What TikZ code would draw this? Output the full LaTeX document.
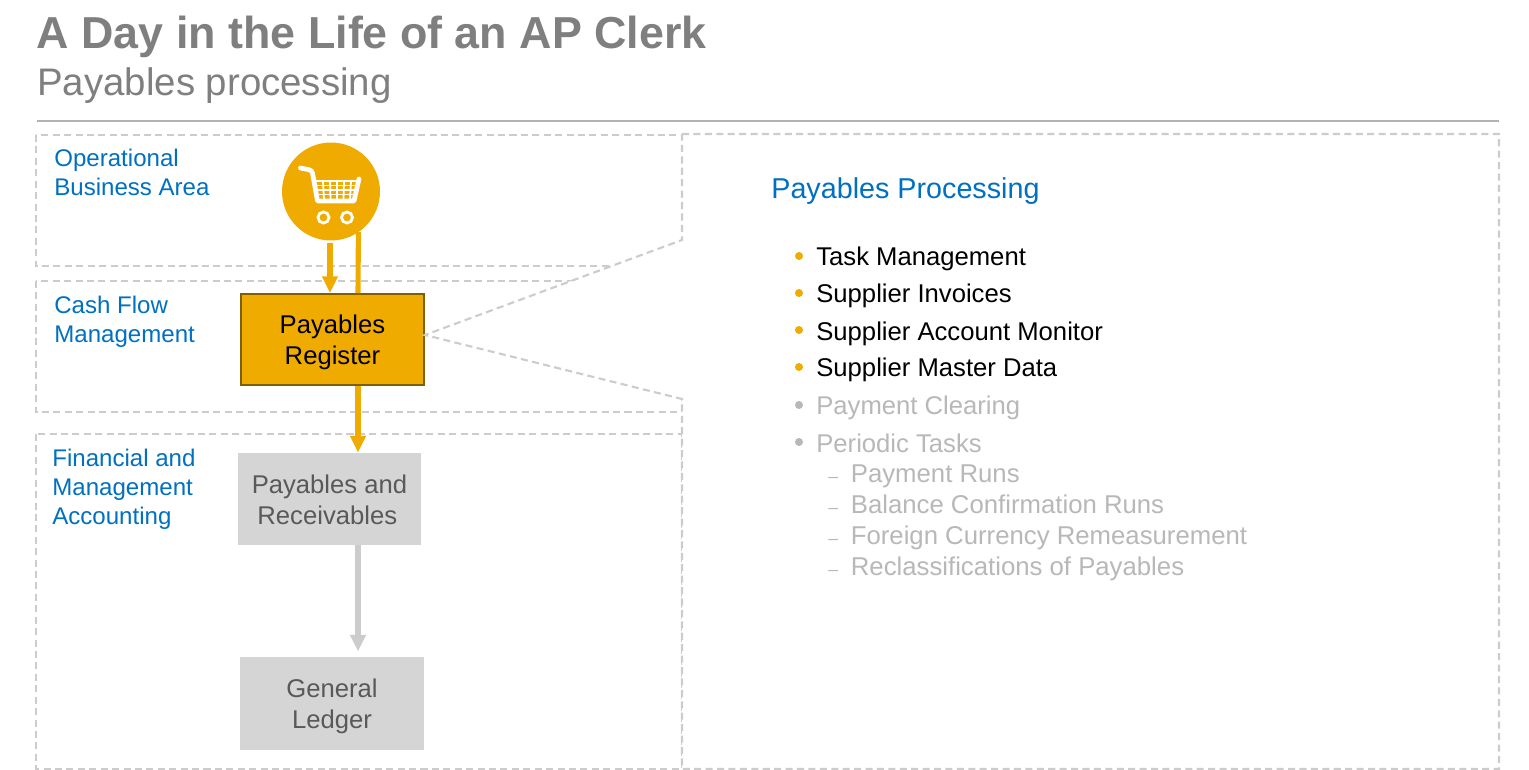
\documentclass[tikz,border=0pt]{standalone}
\usepackage{fontspec}
\setmainfont{Liberation Sans}
\usetikzlibrary{arrows.meta}
\definecolor{sapgold}{HTML}{F0AB00}
\definecolor{sapblue}{HTML}{0070C0}
\definecolor{goldedge}{HTML}{7F6000}
\definecolor{dashgray}{HTML}{CCCCCC}
\definecolor{boxgray}{HTML}{D5D5D5}
\definecolor{boxtext}{HTML}{595959}
\definecolor{titlegray}{HTML}{7F7F7F}
\definecolor{fadetext}{HTML}{B8B8B8}
\newcommand{\boxlines}[3]{\raisebox{#1}[0pt][0pt]{\begin{tabular}{@{}c@{}}#2\\[0.1pt]#3\end{tabular}}}
\begin{document}
\begin{tikzpicture}[x=0.02cm, y=-0.02cm,
    zone/.style={draw=dashgray, line width=1.2pt, dash pattern=on 4pt off 2.5pt},
    zonelabel/.style={anchor=north west, inner sep=0pt, align=left, text=sapblue, font=\fontsize{13.7}{16.4}\selectfont},
    regbox/.style={draw=goldedge, line width=1.3pt, fill=sapgold, minimum width=3.65cm, minimum height=1.81cm, inner sep=0pt, font=\fontsize{14.6}{17.6}\selectfont},
    graybox/.style={fill=boxgray, text=boxtext, minimum width=3.66cm, minimum height=1.84cm, inner sep=0pt, font=\fontsize{14.6}{17.6}\selectfont},
    goldflow/.style={draw=sapgold, line width=2.9pt},
    grayflow/.style={draw=dashgray, line width=2.9pt},
    item/.style={anchor=base west, inner sep=0pt, font=\fontsize{14.6}{17}\selectfont},
    fadeitem/.style={item, text=fadetext},
    subitem/.style={fadeitem, font=\fontsize{14.65}{17}\selectfont},
    golddot/.style={circle, fill=sapgold, inner sep=0pt, minimum size=0.16cm},
    graydot/.style={circle, fill=fadetext, inner sep=0pt, minimum size=0.16cm},
    subdash/.style={anchor=base west, inner sep=0pt, text=fadetext, font=\fontsize{10}{12}\selectfont}]
    \useasboundingbox (0,0) rectangle (1529,770);

    % Heading
    \node[anchor=base west, inner sep=0pt, text=titlegray, font=\fontsize{25.5}{30}\selectfont\bfseries] (title) at (36.5,49) {A Day in the Life of an AP Clerk};
    \node[anchor=base west, inner sep=0pt, text=titlegray, font=\fontsize{21.85}{26}\selectfont] (subtitle) at (37,96) {Payables processing};
    \draw[draw=black!30, line width=0.9pt] (37,121) -- (1499,121);

    % Zones
    \draw[zone] (36,135) rectangle (682,266);
    \draw[zone] (36,281) rectangle (682,412);
    \draw[zone] (36,434) rectangle (682,769);
    \node[zonelabel] (zoneop) at (54,149) {Operational\\Business Area};
    \node[zonelabel] (zonecash) at (54,296) {Cash Flow\\Management};
    \node[zonelabel] (zonefin) at (52,449) {Financial and\\Management\\Accounting};

    % Boxes
    \node[regbox] (reg) at (332.5,339.5) {\boxlines{-5.4pt}{Payables}{Register}};
    \node[graybox] (pay) at (329.5,499) {\boxlines{-5.6pt}{Payables and}{Receivables\hspace*{2.5pt}}};
    \node[graybox, minimum width=3.68cm, minimum height=1.86cm] (gl) at (332,703.5) {\boxlines{-5.6pt}{General}{Ledger}};

    % Callout panel
    \draw[zone, fill=white] (682,134) -- (1499,134) -- (1499,769) -- (682,769) -- (682,399) -- ([yshift=0.09cm]reg.east) -- (682,240) -- cycle;

    % Cart
    \node[circle, fill=sapgold, inner sep=0pt, outer sep=0pt, minimum size=1.96cm] (cart) at (331,191.5) {};
    \draw[white, line width=2.7pt, line cap=round, line join=round] (300.5,168) -- (308,169.5) .. controls (311,170) and (312,171) .. (312.5,173) -- (317.5,201) -- (354,201) -- (359,179);
    \draw[white, line width=1.1pt] (315,181) -- (358,181) (316,185.5) -- (357,185.5) (317,190) -- (356,190) (317.5,194.5) -- (355,194.5);
    \draw[white, line width=1pt] (323,181) -- (324,200) (330,181) -- (330.5,200) (337,181) -- (337,200) (344,181) -- (343.5,200) (351,181) -- (350,200);
    \draw[white, line width=1.6pt] (323.5,217.5) circle (5.5) (347,217.5) circle (5.5);

    % Flows
    \coordinate (feed) at (330,0);
    \coordinate (trunk) at (358,0);
    \draw[goldflow, shorten <=0.06cm, -{Triangle[length=9.5pt, width=8.5pt]}] (cart.south -| feed) -- (reg.north -| feed);
    \draw[goldflow] (cart.-56.6) -- (reg.north -| trunk);
    \draw[goldflow, -{Triangle[length=9.5pt, width=8.5pt]}] (reg.south -| trunk) -- (pay.north -| trunk);
    \draw[grayflow, shorten >=0.1cm, -{Triangle[length=9.5pt, width=8.5pt]}] (pay.south -| trunk) -- (gl.north -| trunk);

    % Task list
    \node[anchor=base west, inner sep=0pt, text=sapblue, font=\fontsize{16.35}{20}\selectfont] (panelhead) at (771,199) {Payables Processing};
    \node[item] (task) at (816,266) {Task Management};
    \node[item] (invoices) at (816,303) {Supplier Invoices};
    \node[item] (monitor) at (816,340) {Supplier Account Monitor};
    \node[item] (master) at (816,377) {Supplier Master Data};
    \node[fadeitem] (clearing) at (816,415) {Payment Clearing};
    \node[fadeitem] (periodic) at (816,452) {Periodic Tasks};
    \node[subitem] (runs) at (850.5,482) {Payment Runs};
    \node[subitem] (balance) at (850.5,513) {Balance Confirmation Runs};
    \node[subitem] (currency) at (850.5,544) {Foreign Currency Remeasurement};
    \node[subitem] (reclass) at (850.5,575) {Reclassifications of Payables};
    \node[golddot] (dottask) at (799,256) {};
    \node[golddot] (dotinvoices) at (799,293) {};
    \node[golddot] (dotmonitor) at (799,330) {};
    \node[golddot] (dotmaster) at (799,367) {};
    \node[graydot] (dotclearing) at (799,405) {};
    \node[graydot] (dotperiodic) at (799,442) {};
    \node[subdash] (dashruns) at (828,482) {–};
    \node[subdash] (dashbalance) at (828,513) {–};
    \node[subdash] (dashcurrency) at (828,544) {–};
    \node[subdash] (dashreclass) at (828,575) {–};
\end{tikzpicture}
\end{document}
